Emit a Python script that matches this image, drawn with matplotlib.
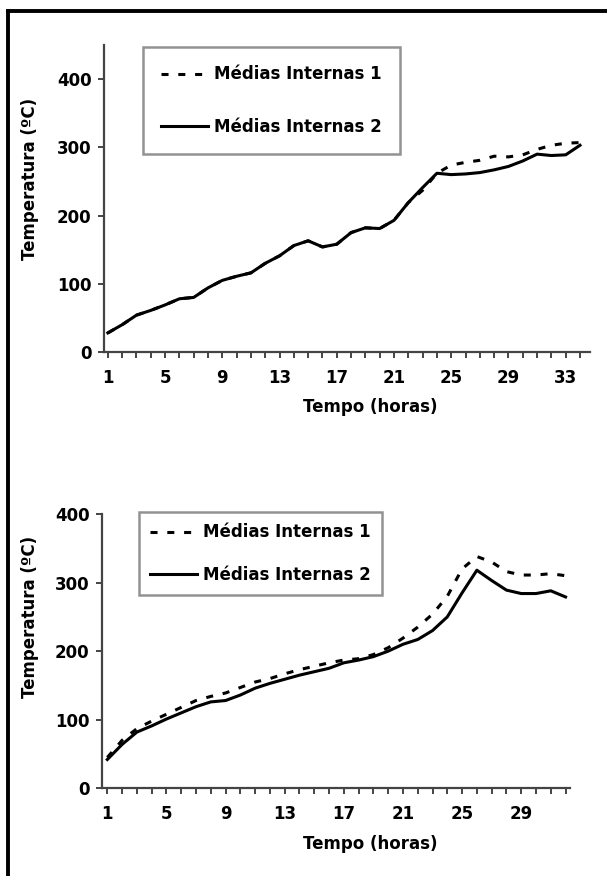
import matplotlib.pyplot as plt
from matplotlib.lines import Line2D

plt.rcParams['font.family'] = 'DejaVu Sans'
plt.rcParams['font.weight'] = 'bold'

# Gráfico superior
horas1 = list(range(1, 35))
internas1_a = [28, 40, 54, 61, 69, 78, 80, 94, 105, 111, 116, 130, 141, 156, 163, 154, 158,
               175, 182, 181, 193, 219, 237, 262, 274, 278, 281, 287, 286, 289, 297, 303,
               306, 307]
internas2_a = [28, 40, 54, 61, 69, 78, 80, 94, 105, 111, 116, 130, 141, 156, 163, 154, 158,
               175, 182, 181, 193, 219, 241, 262, 260, 261, 263, 267, 272, 280, 290, 288,
               289, 303]

# Gráfico inferior
horas2 = list(range(1, 33))
internas1_b = [45, 70, 87, 98, 108, 118, 128, 134, 139, 147, 155, 160, 167, 173, 178, 183,
               187, 189, 195, 205, 219, 235, 254, 280, 320, 338, 330, 316, 311, 311, 313, 310]
internas2_b = [42, 64, 82, 91, 101, 110, 119, 126, 128, 136, 146, 153, 159, 165, 170, 175,
               183, 187, 192, 200, 210, 217, 230, 250, 285, 318, 303, 289, 284, 284, 288, 279]

W, H = 607, 876
fig = plt.figure(figsize=(W / 100, H / 100), dpi=100)
fig.patch.set_facecolor('white')

# moldura (só topo e lado esquerdo)
fig.add_artist(Line2D([8 / W, 8 / W], [0, 1 - 11 / H], transform=fig.transFigure,
                      color='black', lw=2.8))
fig.add_artist(Line2D([8 / W, 1], [1 - 11 / H, 1 - 11 / H], transform=fig.transFigure,
                      color='black', lw=2.8))

ax1 = fig.add_axes([104 / W, 1 - 352 / H, 486 / W, 307 / H])
ax2 = fig.add_axes([102 / W, 1 - 788.3 / H, 468 / W, 274.3 / H])

dash = (0, (2.3, 3.2))


def estilo(ax, horas, ymax, xlim, leg_anchor, labelspacing, borderpad, ylab_xy, xlab_xy):
    ax.set_ylim(0, ymax)
    ax.set_xlim(*xlim)
    ax.set_yticks(range(0, 401, 100))
    ax.set_xticks(horas)
    ax.set_xticklabels([str(h) if (h - 1) % 4 == 0 else '' for h in horas])
    for s in ['top', 'right']:
        ax.spines[s].set_visible(False)
    for s in ['left', 'bottom']:
        ax.spines[s].set_color('#444444')
        ax.spines[s].set_linewidth(1.6)
    ax.tick_params(axis='both', direction='out', length=4, width=1.4, color='#444444',
                   labelsize=12)
    ax.tick_params(axis='x', pad=8)
    ax.tick_params(axis='y', pad=5)
    ax.set_xlabel('Tempo (horas)', fontsize=12, fontweight='bold')
    ax.set_ylabel('Temperatura (ºC)', fontsize=12, fontweight='bold')
    ax.yaxis.set_label_coords(*ylab_xy)
    ax.xaxis.set_label_coords(*xlab_xy)
    leg = ax.legend(loc='upper left', bbox_to_anchor=leg_anchor, borderaxespad=0,
                    fancybox=False, frameon=True, fontsize=12, handlelength=2.8,
                    handletextpad=0.35, labelspacing=labelspacing, borderpad=borderpad)
    leg.get_frame().set_edgecolor('#777777')
    leg.get_frame().set_linewidth(1.8)


ax1.plot(horas1, internas1_a, color='black', lw=2.2, linestyle=dash, label='Médias Internas 1')
ax1.plot(horas1, internas2_a, color='black', lw=2.2, label='Médias Internas 2')
estilo(ax1, horas1, 450, (0.73, 34.7), (0.08, 0.993), 2.05, 1.1,
       (-0.134, 0.564), (0.547, -0.15))

ax2.plot(horas2, internas1_b, color='black', lw=2.2, linestyle=dash, label='Médias Internas 1')
ax2.plot(horas2, internas2_b, color='black', lw=2.2, label='Médias Internas 2')
estilo(ax2, horas2, 400, (0.64, 32.3), (0.078, 1.008), 1.45, 0.7,
       (-0.135, 0.626), (0.574, -0.17))

fig.savefig('out.png', dpi=100)
